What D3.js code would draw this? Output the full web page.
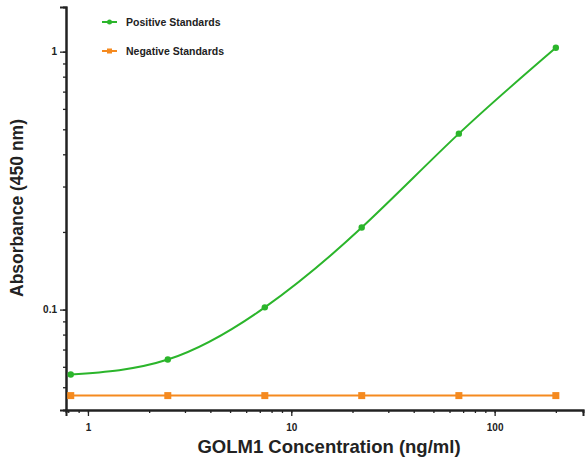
<!DOCTYPE html>
<html>
<head>
<meta charset="utf-8">
<script src="https://cdn.jsdelivr.net/npm/d3@7"></script>
<style>
body { margin: 0; background: #fff; }
text { font-family: "Liberation Sans", Arial, sans-serif; font-weight: bold; }
</style>
</head>
<body>
<script>
var width = 588, height = 463;

// concentrations (ng/ml), serial 1:3 dilutions
var conc = [0.823, 2.47, 7.41, 22.2, 66.7, 200];
var positive = [0.056, 0.064, 0.102, 0.208, 0.481, 1.036];
var negative = [0.0464, 0.0464, 0.0464, 0.0464, 0.0464, 0.0464];
var seriesNames = ["Positive Standards", "Negative Standards"];
var colors = ["#2bb52b", "#f58a1f"];
var xTickLabels = [1, 10, 100];
var yTickLabels = [0.1, 1];

var svg = d3.select("body").append("svg")
    .attr("width", width)
    .attr("height", height);

var x = d3.scaleLog().domain([0.78, 272]).range([66, 583]);
var y = d3.scaleLog().domain([0.0408, 1.49]).range([410, 7]);

// minor ticks
function minorTicks(lo, hi) {
  var t = [];
  for (var e = Math.floor(Math.log10(lo)); e <= Math.ceil(Math.log10(hi)); e++) {
    for (var m = 1; m < 10; m++) {
      var v = m * Math.pow(10, e);
      if (v >= lo && v <= hi) t.push(v);
    }
  }
  return t;
}

var xAxis = svg.append("g")
    .attr("transform", "translate(0," + y.range()[0] + ")")
    .call(d3.axisBottom(x).tickValues(minorTicks(0.78, 272)).tickSize(3).tickFormat(""));
xAxis.append("g").call(d3.axisBottom(x).tickValues(xTickLabels).tickSize(6).tickFormat(d3.format("d")));

var yAxis = svg.append("g")
    .attr("transform", "translate(" + x.range()[0] + ",0)")
    .call(d3.axisLeft(y).tickValues(minorTicks(0.0408, 1.49)).tickSize(3).tickFormat(""));
yAxis.append("g").call(d3.axisLeft(y).tickValues(yTickLabels).tickSize(6).tickFormat(function(d) { return d; }));

svg.selectAll(".domain").attr("stroke", "#222").attr("stroke-width", 2);
svg.selectAll(".tick line").attr("stroke", "#222").attr("stroke-width", 1.3);
svg.selectAll(".tick text").attr("font-size", 10).attr("fill", "#222")
    .style("font-family", "Liberation Sans, Arial, sans-serif").style("font-weight", "bold");
xAxis.selectAll(".tick text").attr("dy", "1.2em");

// axis titles
svg.append("text")
    .attr("transform", "translate(23,208) rotate(-90)")
    .attr("text-anchor", "middle")
    .attr("font-size", 17.5)
    .attr("fill", "#222")
    .text("Absorbance (450 nm)");

svg.append("text")
    .attr("x", 329).attr("y", 453)
    .attr("text-anchor", "middle")
    .attr("font-size", 18.5)
    .attr("fill", "#222")
    .text("GOLM1 Concentration (ng/ml)");

// series
var line = d3.line()
    .x(function(d) { return x(d[0]); })
    .y(function(d) { return y(d[1]); });

var posData = d3.zip(conc, positive);
var negData = d3.zip(conc, negative);

svg.append("path").datum(posData)
    .attr("d", line.curve(d3.curveNatural))
    .attr("fill", "none").attr("stroke", colors[0]).attr("stroke-width", 2);
svg.selectAll(".pos").data(posData).enter().append("circle")
    .attr("cx", function(d) { return x(d[0]); })
    .attr("cy", function(d) { return y(d[1]); })
    .attr("r", 3.2).attr("fill", colors[0]);

svg.append("path").datum(negData)
    .attr("d", line.curve(d3.curveLinear))
    .attr("fill", "none").attr("stroke", colors[1]).attr("stroke-width", 2);
svg.selectAll(".neg").data(negData).enter().append("rect")
    .attr("x", function(d) { return x(d[0]) - 3.5; })
    .attr("y", function(d) { return y(d[1]) - 3.5; })
    .attr("width", 7).attr("height", 7).attr("fill", colors[1]);

// legend
var legend = svg.append("g");
seriesNames.forEach(function(name, i) {
  var ly = 22 + i * 29;
  legend.append("line").attr("x1", 102).attr("x2", 117).attr("y1", ly).attr("y2", ly)
      .attr("stroke", colors[i]).attr("stroke-width", 2);
  if (i == 0) {
    legend.append("circle").attr("cx", 109.5).attr("cy", ly).attr("r", 2.5).attr("fill", colors[i]);
  } else {
    legend.append("rect").attr("x", 107).attr("y", ly - 2.5).attr("width", 5).attr("height", 5).attr("fill", colors[i]);
  }
  legend.append("text").attr("x", 126).attr("y", ly + 3.5)
      .attr("font-size", 10.5).attr("fill", "#222").text(name);
});
</script>
</body>
</html>
